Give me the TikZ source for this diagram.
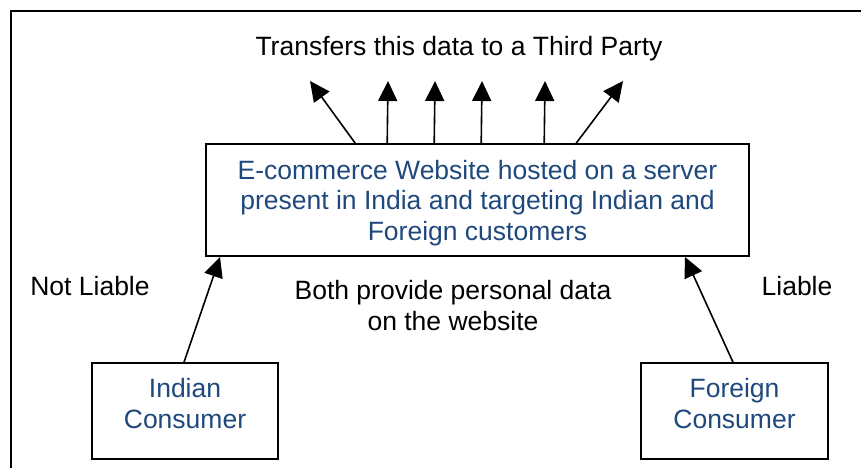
\documentclass[tikz,border=0pt]{standalone}
\usepackage{fontspec}
\setmainfont{Liberation Sans}
\usetikzlibrary{arrows.meta}
\definecolor{txtblue}{HTML}{1F497D}
\begin{document}
\begin{tikzpicture}[x=1pt,y=-1pt,
  box/.style={draw,line width=1.6pt,inner sep=0pt,align=center,text=txtblue,anchor=base,
    font=\fontsize{26.5}{30.5}\selectfont},
  lbl/.style={inner sep=0pt,anchor=base,align=center,
    font=\fontsize{26.5}{30.5}\selectfont},
  arr/.style={line width=1.6pt,-{Triangle[length=20pt,width=19pt]}}]
\useasboundingbox (0,0) rectangle (861,468);
\draw[line width=1.8pt] (861,11) -- (11,11) -- (11,468);
\node[box,minimum width=543pt,text height=96pt,text depth=16pt] (main) at (477.5,240)
  {E-commerce Website hosted on a server\\present in India and targeting Indian and\\Foreign customers};
\node[box,minimum width=186pt,text height=65pt,text depth=31pt] (ind) at (185,428) {Indian\\Consumer};
\node[box,minimum width=187pt,text height=65pt,text depth=31pt] (for) at (734.5,428) {Foreign\\Consumer};
\node[lbl] (title) at (459,56) {Transfers this data to a Third Party};
\node[lbl] (nl) at (90,295) {Not Liable};
\node[lbl] (li) at (797,295) {Liable};
\node[lbl] (both) at (453,330) {Both provide personal data\\on the website};
\coordinate (t1) at (310,81);
\coordinate (t2) at (388,81);
\coordinate (t3) at (435,81);
\coordinate (t4) at (482,81);
\coordinate (t5) at (545,81);
\coordinate (t6) at (623,81);
\draw[arr] ([xshift=150pt]main.north west) -- (t1);
\draw[arr] ([xshift=182pt]main.north west) -- (t2);
\draw[arr] ([xshift=229pt]main.north west) -- (t3);
\draw[arr] ([xshift=276pt]main.north west) -- (t4);
\draw[arr] ([xshift=339pt]main.north west) -- (t5);
\draw[arr] ([xshift=371pt]main.north west) -- (t6);
\coordinate (h1) at (220,257);
\coordinate (h2) at (685,257);
\draw[arr] ([xshift=-1pt]ind.north) -- (h1);
\draw[arr] ([xshift=-1.5pt]for.north) -- (h2);
\end{tikzpicture}
\end{document}
